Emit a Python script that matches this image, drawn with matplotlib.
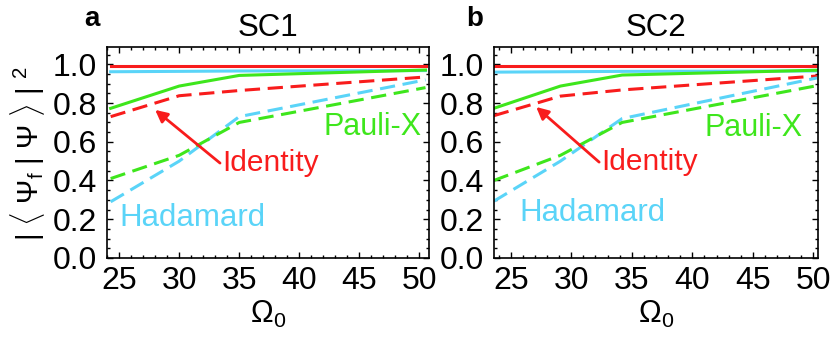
import matplotlib
matplotlib.use("Agg")
import matplotlib.pyplot as plt
from matplotlib.ticker import MultipleLocator

plt.rcParams['font.family'] = ['Liberation Sans', 'DejaVu Sans']
plt.rcParams['mathtext.fontset'] = 'custom'
plt.rcParams['mathtext.rm'] = 'Liberation Sans'
plt.rcParams['mathtext.it'] = 'Liberation Sans:italic'

# data
omega_a = [24.3, 30, 35, 50.5]
omega_b = [23.6, 29.1, 34.2, 50.3]

id_solid_a = [0.992, 0.992, 0.992, 0.992]
had_solid_a = [0.962, 0.964, 0.966, 0.968]
pauli_solid_a = [0.773, 0.888, 0.943, 0.971]
id_dash_a = [0.730, 0.838, 0.865, 0.935]
had_dash_a = [0.290, 0.500, 0.730, 0.920]
pauli_dash_a = [0.410, 0.530, 0.700, 0.880]

id_solid_b = [0.992, 0.992, 0.992, 0.992]
had_solid_b = [0.960, 0.962, 0.964, 0.966]
pauli_solid_b = [0.773, 0.888, 0.945, 0.970]
id_dash_b = [0.735, 0.836, 0.868, 0.940]
had_dash_b = [0.293, 0.500, 0.720, 0.930]
pauli_dash_b = [0.400, 0.530, 0.700, 0.890]

red = '#f81c1c'
cyan = '#5ad4f8'
green = '#3ee61c'

fig = plt.figure(figsize=(8.3, 3.38), dpi=100)
ax1 = fig.add_axes([0.129, 0.237, 0.388, 0.624])
ax2 = fig.add_axes([0.595, 0.237, 0.390, 0.624])


def draw(ax, om, ids, hs, ps, idd, hd, pd_, xlim, title, letter, lx,
         txt_id, arrow_head, txt_pauli, txt_had):
    lw = 2.2
    ax.plot(om, ids, color=red, lw=lw)
    ax.plot(om, hs, color=cyan, lw=lw)
    ax.plot(om, ps, color=green, lw=lw)
    ax.plot(om, idd, color=red, lw=lw, dashes=(5, 2.5))
    ax.plot(om, hd, color=cyan, lw=lw, dashes=(5, 2.5))
    ax.plot(om, pd_, color=green, lw=lw, dashes=(5, 2.5))
    ax.set_xlim(*xlim)
    ax.set_ylim(0, 1.09)
    ax.set_xticks([25, 30, 35, 40, 45, 50])
    ax.set_yticks([0, 0.2, 0.4, 0.6, 0.8, 1.0])
    ax.set_yticklabels(['0.0', '0.2', '0.4', '0.6', '0.8', '1.0'])
    ax.xaxis.set_minor_locator(MultipleLocator(1))
    ax.yaxis.set_minor_locator(MultipleLocator(0.05))
    ax.tick_params(which='both', direction='in', top=True, right=True,
                   labelsize=23, width=1.0)
    ax.tick_params(axis='x', pad=6)
    ax.tick_params(axis='y', pad=7)
    ax.tick_params(which='major', length=4)
    ax.tick_params(which='minor', length=2.5)
    for s in ax.spines.values():
        s.set_linewidth(1.2)
    ax.set_title(title, fontsize=22.5, pad=8)
    ax.set_xlabel(r'$\Omega_0$', fontsize=22, labelpad=2)
    fig.text(lx, 0.945, letter, fontsize=20, fontweight='bold', ha='left', va='center')
    ax.annotate('', xy=arrow_head, xytext=(txt_id[0] - 0.2, txt_id[1]),
                arrowprops=dict(arrowstyle='-|>', color=red, lw=2.0,
                                mutation_scale=18, shrinkA=0, shrinkB=0))
    ax.text(txt_id[0], txt_id[1], 'Identity', color=red, fontsize=21.5, ha='left', va='center')
    ax.text(txt_pauli[0], txt_pauli[1], 'Pauli-X', color=green, fontsize=22, ha='left', va='center')
    ax.text(txt_had[0], txt_had[1], 'Hadamard', color=cyan, fontsize=22.5, ha='left', va='center')


draw(ax1, omega_a, id_solid_a, had_solid_a, pauli_solid_a, id_dash_a, had_dash_a, pauli_dash_a,
     (24.0, 50.8), 'SC1', 'a', 0.102, (33.6, 0.49), (28.0, 0.765), (42.0, 0.675), (25.0, 0.205))
draw(ax2, omega_b, id_solid_b, had_solid_b, pauli_solid_b, id_dash_b, had_dash_b, pauli_dash_b,
     (23.6, 50.35), 'SC2', 'b', 0.562, (32.5, 0.495), (27.1, 0.78), (41.0, 0.67), (25.7, 0.23))

fig.text(0.033, 0.545, r'| $\langle$ Ψ$_{\rm f}$ | Ψ $\rangle$ | $^2$', rotation=90,
         fontsize=21, ha='center', va='center')

fig.savefig('out.png', dpi=100)
